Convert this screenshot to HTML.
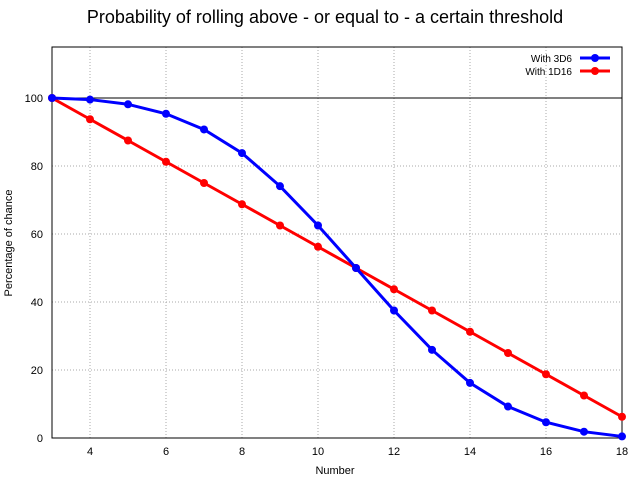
<!DOCTYPE html>
<html><head><meta charset="utf-8"><style>
body{margin:0;background:#fff;}
svg{display:block;font-family:"Liberation Sans",sans-serif;}
</style></head><body>
<svg id="chart" width="640" height="480">
<text x="325" y="23" text-anchor="middle" font-size="18">Probability of rolling above - or equal to - a certain threshold</text>
<text x="335" y="474" text-anchor="middle" font-size="11">Number</text>
<text transform="translate(12,243) rotate(-90)" text-anchor="middle" font-size="11">Percentage of chance</text>
<g id="grid"></g><g id="axes"></g><g id="series"></g><g id="legend"></g>
</svg>
<script>
const categories=[3,4,5,6,7,8,9,10,11,12,13,14,15,16,17,18];
const series3d6=[100,99.54,98.15,95.37,90.74,83.8,74.07,62.5,50,37.5,25.93,16.2,9.26,4.63,1.85,0.46];
const series1d16=[100,93.75,87.5,81.25,75,68.75,62.5,56.25,50,43.75,37.5,31.25,25,18.75,12.5,6.25];
const xTicks=[4,6,8,10,12,14,16,18];
const yTicks=[0,20,40,60,80,100];
const NS="http://www.w3.org/2000/svg";
const L=52,R=622,T=47,B=438,xmin=3,xmax=18,ymin=0,ymax=115;
const xs=v=>L+(v-xmin)/(xmax-xmin)*(R-L);
const ys=v=>B-(v-ymin)/(ymax-ymin)*(B-T);
function mk(tag,attrs,parent){const e=document.createElementNS(NS,tag);for(const k in attrs)e.setAttribute(k,attrs[k]);document.getElementById(parent).appendChild(e);return e;}
xTicks.forEach(t=>{
 if(t<xmax){const g=mk('line',{x1:xs(t),x2:xs(t),y1:T,y2:B,stroke:'#aaa','stroke-dasharray':'1,2','stroke-width':1},'grid');
 
 }
 const tx=mk('text',{x:xs(t),y:B+17,'text-anchor':'middle','font-size':11},'axes');tx.textContent=t;
 
 
});
yTicks.forEach(t=>{
 if(t>0){const g=mk('line',{x1:L,x2:R,y1:ys(t),y2:ys(t),stroke:t==100?'#000':'#aaa','stroke-dasharray':t==100?'none':'1,2','stroke-width':1},'grid');
 
 }
 const tx=mk('text',{x:L-9,y:ys(t)+4,'text-anchor':'end','font-size':11},'axes');tx.textContent=t;
 
 
});
const fr=mk('rect',{x:L,y:T,width:R-L,height:B-T,fill:'none',stroke:'#000','stroke-width':1},'axes');


function drawSeries(vals,color,name){
 const p=mk('polyline',{points:vals.map((v,i)=>xs(categories[i])+','+ys(v)).join(' '),fill:'none',stroke:color,'stroke-width':3},'series');
 
 
 vals.forEach((v,i)=>{const c=mk('circle',{cx:xs(categories[i]),cy:ys(v),r:4,fill:color},'series');
 
 });
}
drawSeries(series1d16,'#f00','series-1d16');
drawSeries(series3d6,'#00f','series-3d6');
[['With 3D6','#00f',58],['With 1D16','#f00',71]].forEach(([lab,col,y])=>{
 const t=mk('text',{x:572,y:y+4,'text-anchor':'end','font-size':10},'legend');t.textContent=lab;
 
 
 const l=mk('line',{x1:580,x2:610,y1:y,y2:y,stroke:col,'stroke-width':3},'legend');
 
 
 const c=mk('circle',{cx:595,cy:y,r:4,fill:col},'legend');
 
 
});
</script>
</body></html>
